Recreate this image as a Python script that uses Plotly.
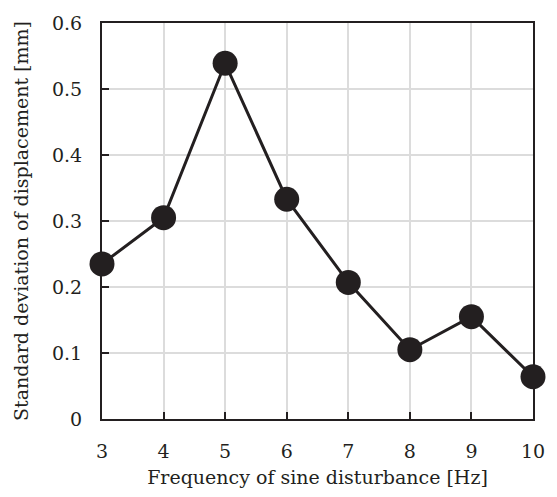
import plotly.graph_objects as go

freq = [3, 4, 5, 6, 7, 8, 9, 10]
std_disp = [0.235, 0.305, 0.539, 0.333, 0.207, 0.105, 0.155, 0.064]
y_ticks = [0, 0.1, 0.2, 0.3, 0.4, 0.5, 0.6]
y_tick_text = ["0", "0.1", "0.2", "0.3", "0.4", "0.5", "0.6"]

ink = "#231f20"
font_family = "DejaVu Serif"

fig = go.Figure(go.Scatter(
    x=freq, y=std_disp, mode="lines+markers",
    line=dict(color=ink, width=3),
    marker=dict(color=ink, size=25),
    cliponaxis=False,
))

axis_common = dict(
    showline=True, linecolor=ink, linewidth=2, mirror=True,
    showgrid=True, gridcolor="#dcdcdc", gridwidth=1.5,
    ticks="inside", ticklen=7, tickcolor=ink, tickwidth=2,
    tickfont=dict(family=font_family, size=19, color=ink),
    zeroline=False,
)

fig.update_layout(
    width=557, height=497,
    margin=dict(l=102, r=22, t=14, b=72),
    paper_bgcolor="white", plot_bgcolor="white",
    showlegend=False,
    font=dict(family=font_family, color=ink),
    xaxis=dict(range=[3, 10], dtick=1, tick0=3, ticklabelstandoff=14,
               title=dict(text="Frequency of sine disturbance [Hz]",
                          font=dict(family=font_family, size=19, color=ink), standoff=10),
               **axis_common),
    yaxis=dict(range=[0, 0.6], tickvals=y_ticks, ticktext=y_tick_text,
               ticklabelstandoff=14,
               title=dict(text="Standard deviation of displacement [mm]",
                          font=dict(family=font_family, size=19, color=ink), standoff=18),
               **axis_common),
)

fig.write_html("out.html")
